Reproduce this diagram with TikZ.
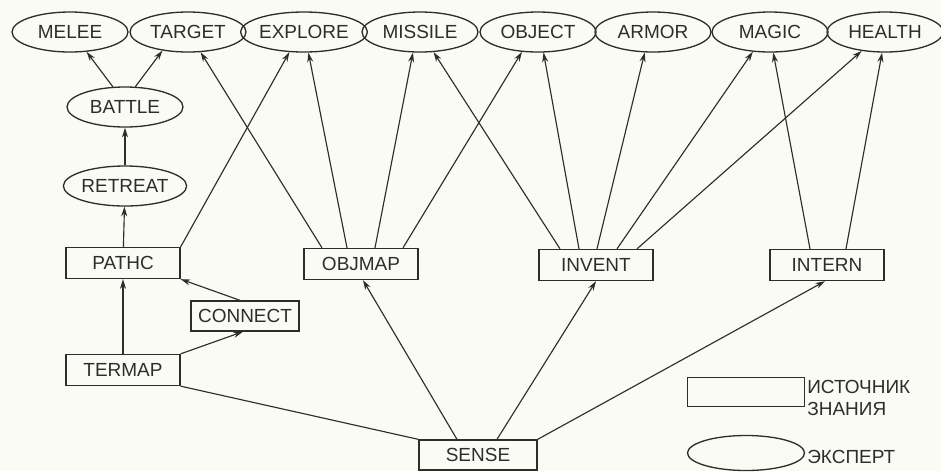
\documentclass[tikz,border=0pt]{standalone}
\usepackage{fontspec}
\setmainfont{Liberation Sans}
\usetikzlibrary{positioning, shapes.geometric, arrows.meta, calc}
\definecolor{paper}{RGB}{251,251,246}
\definecolor{ink}{RGB}{45,45,45}

\begin{document}
\begin{tikzpicture}[
    x=0.02cm, y=-0.02cm,
    font=\fontsize{10.8}{13}\selectfont,
    expert/.style={ellipse, draw=ink, line width=0.75pt, minimum width=2.32cm, minimum height=0.8cm, inner sep=0pt, text=ink},
    source/.style={rectangle, draw=ink, line width=0.75pt, minimum width=2.28cm, minimum height=0.62cm, inner sep=0pt, text=ink},
    connect/.style={-{Stealth[length=5.5pt, width=3.4pt]}, line width=0.65pt, ink},
    plain/.style={line width=0.65pt, ink},
    legend_label/.style={anchor=west, align=left, inner sep=0pt, text=ink}
]

    % --- PAPER ---
    \fill[paper] (0,0) rectangle (941,471);
    \useasboundingbox (0,0) rectangle (941,471);

    % --- EXPERTS: top row ---
    \foreach \name/\x in {MELEE/70, TARGET/188, EXPLORE/304, MISSILE/420,
                          OBJECT/538, ARMOR/653, MAGIC/770, HEALTH/885}
        \node[expert] (\name) at (\x, 32) {\name};

    % --- EXPERTS: left column ---
    \node[expert] (BATTLE) at (125, 107) {BATTLE};
    \node[expert] (RETREAT) at (125, 186) {RETREAT};

    % --- KNOWLEDGE SOURCES ---
    \node[source] (PATHC) at (123, 263) {PATHC};
    \node[source, minimum width=2.16cm, minimum height=0.6cm] (CONNECT) at (245, 316) {CONNECT};
    \node[source] (TERMAP) at (123, 370) {TERMAP};
    \node[source] (OBJMAP) at (361, 264) {OBJMAP};
    \node[source] (INVENT) at (596, 265) {INVENT};
    \node[source] (INTERN) at (827, 265) {INTERN};
    \node[source, minimum width=2.36cm, minimum height=0.6cm] (SENSE) at (478, 455) {SENSE};

    % --- LEGEND ---
    \node[source, minimum width=2.34cm, minimum height=0.58cm] (key-src) at (746, 392) {};
    \node[legend_label] (key-src-text) at (807, 398) {ИСТОЧНИК\\[-1pt]ЗНАНИЯ};
    \node[expert, minimum width=2.34cm, minimum height=0.7cm] (key-exp) at (746, 453) {};
    \node[legend_label] (key-exp-text) at (807, 457) {ЭКСПЕРТ};

    % --- LEFT BRANCH ---
    \draw[connect] (BATTLE.121.5) -- (MELEE.-50);
    \draw[connect] (BATTLE.63) -- (TARGET.-144);
    \draw[connect] (RETREAT) -- (BATTLE);
    \draw[connect] (PATHC) -- (RETREAT);
    \draw[connect] (PATHC.north east) -- (EXPLORE.-126);
    \draw[connect] ($(CONNECT.north)+(-5,0)$) -- (PATHC.south east);
    \draw[connect] (TERMAP) -- (PATHC);
    \draw[connect] (TERMAP.north east) -- ($(CONNECT.south)+(-2,0)$);
    \draw[plain] (TERMAP.south east) -- (SENSE.north west);

    % --- OBJMAP / INVENT / INTERN to experts ---
    \foreach \dx/\ang/\dest in {-39/-58.5/TARGET, -14/-78.7/EXPLORE, 14/-109.4/MISSILE, 42/-129.8/OBJECT}
        \draw[connect] ($(OBJMAP.north)+(\dx,0)$) -- (\dest.\ang);
    \foreach \dx/\ang/\dest in {-36/-56.3/MISSILE, -17/-75.9/OBJECT, 1/-112/ARMOR, 21/-131.6/MAGIC, 41/-141.4/HEALTH}
        \draw[connect] ($(INVENT.north)+(\dx,0)$) -- (\dest.\ang);
    \foreach \dx/\ang/\dest in {-17/-81.5/MAGIC, 19/-98.5/HEALTH}
        \draw[connect] ($(INTERN.north)+(\dx,0)$) -- (\dest.\ang);

    % --- SENSE feeds ---
    \draw[connect] ($(SENSE.north)+(-21,0)$) -- ($(OBJMAP.south)+(2,0)$);
    \draw[connect] ($(SENSE.north)+(19,0)$) -- (INVENT.south);
    \draw[connect] (SENSE.north east) -- ($(INTERN.south)+(-2,0)$);

\end{tikzpicture}
\end{document}
